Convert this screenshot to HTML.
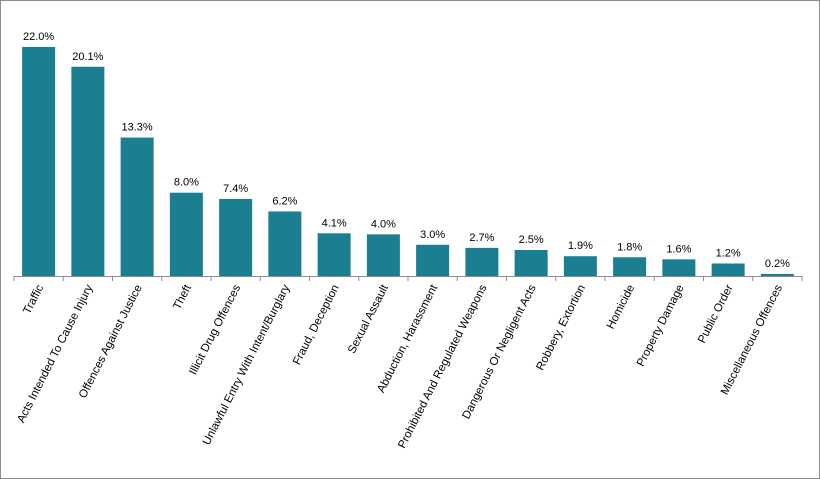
<!DOCTYPE html>
<html><head><meta charset="utf-8"><style>
body{margin:0;background:#fff}
svg{display:block;font-family:"Liberation Sans",Arial,sans-serif}
</style></head><body>
<svg id="chart" width="820" height="479">
<rect x="0.5" y="0.5" width="819" height="478" fill="#fff" stroke="#8c8c8c"/>
<g id="plot"></g>
</svg>
<script>
const categories=["Traffic","Acts Intended To Cause Injury","Offences Against Justice","Theft","Illicit Drug Offences","Unlawful Entry With Intent/Burglary","Fraud, Deception","Sexual Assault","Abduction, Harassment","Prohibited And Regulated Weapons","Dangerous Or Negligent Acts","Robbery, Extortion","Homicide","Property Damage","Public Order","Miscellaneous Offences"];
const values=[22.0,20.1,13.3,8.0,7.4,6.2,4.1,4.0,3.0,2.7,2.5,1.9,1.8,1.6,1.2,0.2];
const valueLabels=["22.0%","20.1%","13.3%","8.0%","7.4%","6.2%","4.1%","4.0%","3.0%","2.7%","2.5%","1.9%","1.8%","1.6%","1.2%","0.2%"];
const NS="http://www.w3.org/2000/svg";
const g=document.getElementById('plot');
const x0=14,step=49.25,base=276,ppu=10.41,bw=33;
const xs=i=>x0+step*i;
const ys=v=>base-v*ppu;
function mk(t,a){const e=document.createElementNS(NS,t);for(const k in a)e.setAttribute(k,a[k]);g.appendChild(e);return e;}
categories.forEach((c,i)=>{
  const cx=xs(i)+step/2;
  const r=mk('rect',{x:cx-bw/2,y:ys(values[i]),width:bw,height:base-ys(values[i]),fill:'#1b7e91'});
  
  
  const t=mk('text',{x:cx,y:ys(values[i])-7,'text-anchor':'middle','font-size':'11',fill:'#000'});
  t.textContent=valueLabels[i];
  
  
  const l=mk('text',{transform:`translate(${cx+5},287) rotate(-63)`,'text-anchor':'end','font-size':'11.5',fill:'#000'});
  l.textContent=c;
  
  
});
for(let i=0;i<=categories.length;i++){
  const tk=mk('line',{x1:xs(i),x2:xs(i),y1:base,y2:base+5,stroke:'#8c8c8c'});
  
  
}
const ax=mk('line',{x1:x0,x2:xs(categories.length),y1:base+0.5,y2:base+0.5,stroke:'#8c8c8c'});


</script>
</body></html>
